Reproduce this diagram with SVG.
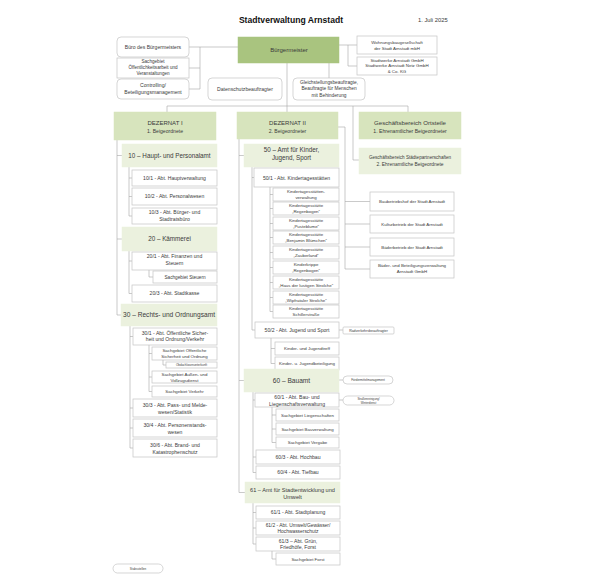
<svg xmlns="http://www.w3.org/2000/svg" width="600" height="587" viewBox="0 0 600 587">
<style>
text{font-family:"Liberation Sans",Arial,sans-serif;fill:#3a3a3a;text-anchor:middle}
.b{fill:#fff;stroke:#c4c4c4;stroke-width:0.7}
.g0{fill:#a9c47f;stroke:#a9c47f;stroke-width:0.5}
.g1{fill:#d7e4bd;stroke:#d7e4bd;stroke-width:0.5}
.g2{fill:#ebf1de;stroke:#ebf1de;stroke-width:0.5}
.c{fill:none;stroke:#a6a6a6;stroke-width:0.6}
.t5{font-size:5.1px}
.t4{font-size:4.4px}
.t3{font-size:3px}
.h{font-size:6.3px}
</style>
<rect width="600" height="587" fill="#fff"/>
<g id="connectors">
<path class="c" d="M189 47H238M200 47V89M189 68H200M189 89H200"/>
<path class="c" d="M339 45H357M348 45V66H357"/>
<path class="c" d="M287 63V112M329 63V78M167 106H408M167 106V112M408 106V112M353 106V160H359"/>
<path class="c" d="M117 140V315M117 155.5H122M117 239H122M117 315H121"/>
<path class="c" d="M129 167V216M129 178H132M129 196.5H132M129 216H132"/>
<path class="c" d="M129 251V293.5M129 261H132M129 293.5H132M149 270V277H153"/>
<path class="c" d="M130 326V448M130 336.5H133M130 408H133M130 428H133M130 448H133M149 345V391.5M149 353.5H152M149 377H152M149 391.5H152M163 360V365H166"/>
<path class="c" d="M239 139V492.5M239 155.5H244M239 380.5H244M239 492.5H245"/>
<path class="c" d="M338 127H345V269M345 201.5H370M345 224H370M345 247H370M345 269H370"/>
<path class="c" d="M252 167V330M252 177.5H254M252 330H255"/>
<path class="c" d="M270 187V311.5M270 194.5H273M270 208.5H273M270 223.5H273M270 237.5H273M270 252.5H273M270 267.5H273M270 282.5H273M270 297.5H273M270 311.5H273"/>
<path class="c" d="M271 338V363.5M271 348.5H275M271 363.5H275M339 330H343"/>
<path class="c" d="M339 380H343M339 400H343M253 392V472.5M253 400H255M253 457H256M253 472.5H256M272 407V442.5M272 415H276M272 429H276M272 442.5H276"/>
<path class="c" d="M253 503V544M253 512.5H256M253 528H256M253 544H256M272 551V559H276"/>
</g>
<g id="title"><text x="291" y="23" style="font-size:8.6px;font-weight:bold;fill:#111">Stadtverwaltung Arnstadt</text></g>
<g id="date"><text x="418" y="22" style="font-size:5.8px;text-anchor:start">1. Juli 2025</text></g>
<g id="buergermeister"><rect class="g0" x="238" y="37" width="101" height="26"/><text x="289" y="52" style="font-size:6px">Bürgermeister</text></g>
<g id="buero"><rect class="b" x="117" y="37" width="72" height="20" rx="4"/><text class="t5" x="153" y="49">Büro des Bürgermeisters</text></g>
<g id="oeffentlichkeit"><rect class="b" x="117" y="58" width="72" height="20"/><text x="153" y="63" style="font-size:4.6px">Sachgebiet</text><text x="153" y="68.8" style="font-size:4.6px">Öffentlichkeitsarbeit und</text><text x="153" y="74.6" style="font-size:4.6px">Veranstaltungen</text></g>
<g id="controlling"><rect class="b" x="117" y="79" width="72" height="20" rx="4"/><text class="t5" x="153" y="86.7">Controlling/</text><text class="t5" x="153" y="93.7">Beteiligungsmanagement</text></g>
<g id="datenschutz"><rect class="b" x="208" y="78" width="74" height="22" rx="4"/><text class="t5" x="245" y="90.8">Datenschutzbeauftragter</text></g>
<g id="gleichstellung"><rect class="b" x="293" y="78" width="72" height="22" rx="4"/><text x="329" y="83.5" style="font-size:4.8px">Gleichstellungsbeauftragte,</text><text x="329" y="90" style="font-size:4.8px">Beauftragte für Menschen</text><text x="329" y="96.5" style="font-size:4.8px">mit Behinderung</text></g>
<g id="wohnungsbau"><rect class="b" x="357" y="36" width="80" height="18"/><text class="t4" x="397" y="44.3">Wohnungsbaugesellschaft</text><text class="t4" x="397" y="50">der Stadt Arnstadt mbH</text></g>
<g id="stadtwerke"><rect class="b" x="357" y="57" width="80" height="18"/><text class="t4" x="397" y="61.8">Stadtwerke Arnstadt GmbH</text><text class="t4" x="397" y="67.2">Stadtwerke Arnstadt Netz GmbH</text><text class="t4" x="397" y="72.6">&amp; Co. KG</text></g>
<g id="dezernat1"><rect class="g1" x="114" y="112" width="102" height="28"/><text x="165" y="125" style="font-size:6px">DEZERNAT I</text><text class="t5" x="165" y="132.5">1. Beigeordnete</text></g>
<g id="dezernat2"><rect class="g1" x="237" y="112" width="101" height="27"/><text x="287.5" y="125" style="font-size:6px">DEZERNAT II</text><text class="t5" x="287.5" y="132.5">2. Beigeordneter</text></g>
<g id="ortsteile"><rect class="g1" x="359" y="112" width="102" height="27"/><text x="410" y="125" style="font-size:6.1px">Geschäftsbereich Ortsteile</text><text class="t5" x="410" y="132.5">1. Ehrenamtlicher Beigeordneter</text></g>
<g id="staedtepartner"><rect class="g2" x="359" y="148" width="102" height="26"/><text x="410" y="158.5" style="font-size:4.6px">Geschäftsbereich Städtepartnerschaften</text><text x="410" y="165.5" style="font-size:4.9px">2. Ehrenamtliche Beigeordnete</text></g>
<g id="a10"><rect class="g2" x="122" y="144" width="95" height="23"/><text class="h" x="169.5" y="157.7">10 – Haupt- und Personalamt</text></g>
<g id="a10-1"><rect class="b" x="132" y="170" width="85" height="16"/><text class="t5" x="174.5" y="179.8">10/1 - Abt. Hauptverwaltung</text></g>
<g id="a10-2"><rect class="b" x="132" y="188" width="85" height="17"/><text class="t5" x="174.5" y="198.3">10/2 - Abt. Personalwesen</text></g>
<g id="a10-3"><rect class="b" x="132" y="208" width="85" height="16"/><text class="t5" x="174.5" y="214">10/3 - Abt. Bürger- und</text><text class="t5" x="174.5" y="221">Stadtratsbüro</text></g>
<g id="a20"><rect class="g2" x="122" y="227" width="95" height="24"/><text class="h" x="169.5" y="241.2">20 – Kämmerei</text></g>
<g id="a20-1"><rect class="b" x="132" y="252" width="85" height="18"/><text class="t5" x="174.5" y="258">20/1 - Abt. Finanzen und</text><text class="t5" x="174.5" y="265">Steuern</text></g>
<g id="sg-steuern"><rect class="b" x="153" y="271" width="64" height="12"/><text x="185" y="278.6" style="font-size:4.7px">Sachgebiet Steuern</text></g>
<g id="a20-3"><rect class="b" x="132" y="285" width="85" height="17"/><text class="t5" x="174.5" y="295.3">20/3 - Abt. Stadtkasse</text></g>
<g id="a30"><rect class="g2" x="121" y="304" width="96" height="22"/><text x="169" y="317.3" style="font-size:6.6px">30 – Rechts- und Ordnungsamt</text></g>
<g id="a30-1"><rect class="b" x="133" y="328" width="84" height="17"/><text class="t5" x="175" y="334.5">30/1 - Abt. Öffentliche Sicher-</text><text class="t5" x="175" y="341.2">heit und Ordnung/Verkehr</text></g>
<g id="sg-oeff"><rect class="b" x="152" y="347" width="65" height="13"/><text class="t4" x="184.5" y="351.8">Sachgebiet Öffentliche</text><text class="t4" x="184.5" y="357.6">Sicherheit und Ordnung</text></g>
<g id="obdach"><rect class="b" x="166" y="362" width="51" height="6"/><text class="t3" x="191.5" y="366">Obdachlosenunterkunft</text></g>
<g id="sg-aussen"><rect class="b" x="152" y="371" width="65" height="12"/><text class="t4" x="184.5" y="375.7">Sachgebiet Außen- und</text><text class="t4" x="184.5" y="381.5">Vollzugsdienst</text></g>
<g id="sg-verkehr"><rect class="b" x="152" y="386" width="65" height="11"/><text class="t4" x="184.5" y="393">Sachgebiet Verkehr</text></g>
<g id="a30-3"><rect class="b" x="133" y="399" width="84" height="18"/><text class="t5" x="175" y="407">30/3 - Abt. Pass- und Melde-</text><text class="t5" x="175" y="414">wesen/Statistik</text></g>
<g id="a30-4"><rect class="b" x="133" y="419" width="84" height="18"/><text class="t5" x="175" y="427">30/4 - Abt. Personenstands-</text><text class="t5" x="175" y="434">wesen</text></g>
<g id="a30-6"><rect class="b" x="133" y="439" width="84" height="18"/><text class="t5" x="175" y="447">30/6 - Abt. Brand- und</text><text class="t5" x="175" y="454">Katastrophenschutz</text></g>
<g id="a50"><rect class="g2" x="244" y="144" width="95" height="23"/><text class="h" x="291.5" y="151.6">50 – Amt für Kinder,</text><text class="h" x="291.5" y="159.8">Jugend, Sport</text></g>
<g id="a50-1"><rect class="b" x="254" y="168" width="85" height="19"/><text class="t5" x="296.5" y="179.5">50/1 - Abt. Kindertagesstätten</text></g>
<g id="kita1"><rect class="b" x="273" y="188" width="66" height="13"/><text class="t4" x="306" y="193.3">Kindertagesstätten-</text><text class="t4" x="306" y="198.6">verwaltung</text></g>
<g id="kita2"><rect class="b" x="273" y="202" width="66" height="13"/><text class="t4" x="306" y="207.3">Kindertagesstätte</text><text class="t4" x="306" y="212.6">„Regenbogen“</text></g>
<g id="kita3"><rect class="b" x="273" y="217" width="66" height="13"/><text class="t4" x="306" y="222.3">Kindertagesstätte</text><text class="t4" x="306" y="227.6">„Pusteblume“</text></g>
<g id="kita4"><rect class="b" x="273" y="231" width="66" height="13"/><text class="t4" x="306" y="236.3">Kindertagesstätte</text><text class="t4" x="306" y="241.6">„Benjamin Blümchen“</text></g>
<g id="kita5"><rect class="b" x="273" y="246" width="66" height="13"/><text class="t4" x="306" y="251.3">Kindertagesstätte</text><text class="t4" x="306" y="256.6">„Zauberland“</text></g>
<g id="kita6"><rect class="b" x="273" y="261" width="66" height="13"/><text class="t4" x="306" y="266.3">Kinderkrippe</text><text class="t4" x="306" y="271.6">„Regenbogen“</text></g>
<g id="kita7"><rect class="b" x="273" y="276" width="66" height="13"/><text class="t4" x="306" y="281.3">Kindertagesstätte</text><text class="t4" x="306" y="286.6">„Haus der lustigen Strolche“</text></g>
<g id="kita8"><rect class="b" x="273" y="291" width="66" height="13"/><text class="t4" x="306" y="296.3">Kindertagesstätte</text><text class="t4" x="306" y="301.6">„Wipfrataler Strolche“</text></g>
<g id="kita9"><rect class="b" x="273" y="305" width="66" height="13"/><text class="t4" x="306" y="310.3">Kindertagesstätte</text><text class="t4" x="306" y="315.6">Schillerstraße</text></g>
<g id="a50-2"><rect class="b" x="255" y="322" width="84" height="16"/><text class="t5" x="297" y="331.8">50/2 - Abt. Jugend und Sport</text></g>
<g id="radverkehr"><rect class="b" x="343" y="327" width="51" height="7" rx="1"/><text x="368.5" y="331.8" style="font-size:3.5px">Radverkehrsbeauftragter</text></g>
<g id="jugendtreff"><rect class="b" x="275" y="342" width="64" height="13"/><text class="t4" x="307" y="350.2">Kinder- und Jugendtreff</text></g>
<g id="jugendbeteiligung"><rect class="b" x="275" y="357" width="64" height="13"/><text class="t4" x="307" y="365.2">Kinder- u. Jugendbeteiligung</text></g>
<g id="a60"><rect class="g2" x="244" y="369" width="95" height="23"/><text x="291.5" y="383" style="font-size:6.6px">60 – Bauamt</text></g>
<g id="foerdermittel"><rect class="b" x="343" y="376" width="50" height="8" rx="4"/><text class="t3" x="368" y="381.1">Fördermittelmanagement</text></g>
<g id="a60-1"><rect class="b" x="255" y="393" width="84" height="14"/><text class="t5" x="297" y="399">60/1 - Abt. Bau- und</text><text class="t5" x="297" y="405.6">Liegenschaftsverwaltung</text></g>
<g id="strassen"><rect class="b" x="343" y="396" width="51" height="9" rx="4.5"/><text x="368.5" y="400" style="font-size:2.8px">Straßenreinigung/</text><text x="368.5" y="403.6" style="font-size:2.8px">Winterdienst</text></g>
<g id="sg-liegen"><rect class="b" x="276" y="409" width="63" height="12"/><text class="t4" x="307.5" y="416.5">Sachgebiet Liegenschaften</text></g>
<g id="sg-bauverw"><rect class="b" x="276" y="423" width="63" height="12"/><text class="t4" x="307.5" y="430.5">Sachgebiet Bauverwaltung</text></g>
<g id="sg-vergabe"><rect class="b" x="276" y="437" width="63" height="11"/><text class="t4" x="307.5" y="444">Sachgebiet Vergabe</text></g>
<g id="a60-3"><rect class="b" x="256" y="450" width="84" height="14"/><text class="t5" x="298" y="458.8">60/3 - Abt. Hochbau</text></g>
<g id="a60-4"><rect class="b" x="256" y="466" width="84" height="13"/><text class="t5" x="298" y="474.3">60/4 - Abt. Tiefbau</text></g>
<g id="a61"><rect class="g2" x="245" y="482" width="95" height="21"/><text x="292.5" y="492" style="font-size:5.6px">61 – Amt für Stadtentwicklung und</text><text x="292.5" y="498.8" style="font-size:5.6px">Umwelt</text></g>
<g id="a61-1"><rect class="b" x="256" y="506" width="84" height="13"/><text class="t5" x="298" y="514.3">61/1 - Abt. Stadtplanung</text></g>
<g id="a61-2"><rect class="b" x="256" y="521" width="84" height="14"/><text x="298" y="526.6" style="font-size:4.9px">61/2 - Abt. Umwelt/Gewässer/</text><text x="298" y="532.9" style="font-size:4.9px">Hochwasserschutz</text></g>
<g id="a61-3"><rect class="b" x="256" y="537" width="84" height="14"/><text class="t5" x="298" y="542.6">61/3 – Abt. Grün,</text><text class="t5" x="298" y="549">Friedhöfe, Forst</text></g>
<g id="sg-forst"><rect class="b" x="276" y="553" width="64" height="12"/><text class="t4" x="308" y="560.6">Sachgebiet Forst</text></g>
<g id="baubetriebshof"><rect class="b" x="370" y="192" width="84" height="19"/><text class="t4" x="412" y="203">Baubetriebshof der Stadt Arnstadt</text></g>
<g id="kulturbetrieb"><rect class="b" x="370" y="215" width="84" height="18"/><text class="t4" x="412" y="225.5">Kulturbetrieb der Stadt Arnstadt</text></g>
<g id="baederbetrieb"><rect class="b" x="370" y="238" width="84" height="18"/><text class="t4" x="412" y="248.5">Bäderbetrieb der Stadt Arnstadt</text></g>
<g id="beteiligung"><rect class="b" x="370" y="260" width="84" height="18"/><text class="t4" x="412" y="267.3">Bäder- und Beteiligungsverwaltung</text><text class="t4" x="412" y="273.3">Arnstadt GmbH</text></g>
<g id="stabsstellen"><rect class="b" x="113" y="564" width="50" height="9" rx="4.5"/><text class="t3" x="138" y="569.7">Stabsstellen</text></g>
</svg>
